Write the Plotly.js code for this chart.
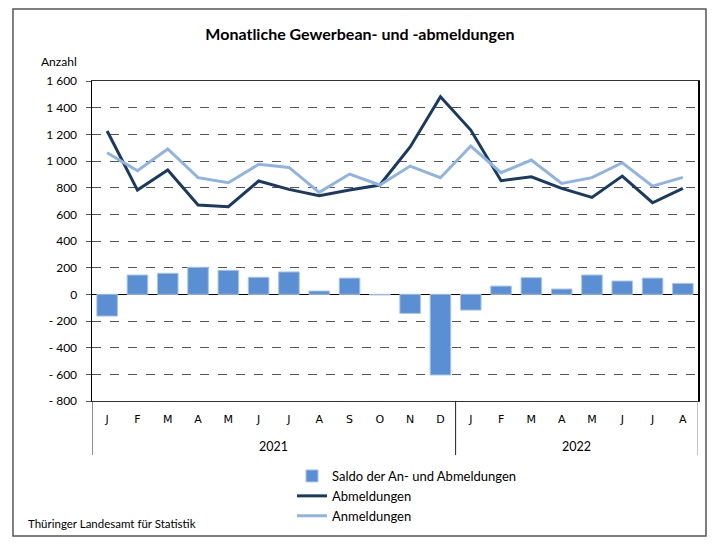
<!DOCTYPE html>
<html>
<head>
<meta charset="utf-8">
<script src="https://cdn.plot.ly/plotly-3.0.1.min.js"></script>
<style>html,body{margin:0;padding:0;background:#fff;}#chart{width:717px;height:549px;}</style>
</head>
<body>
<div id="chart"></div>
<script>
const months = ["J","F","M","A","M","J","J","A","S","O","N","D","J","F","M","A","M","J","J","A"];
const years = ["2021","2022"];
const abmeldungen = [1225,782,932,670,657,850,787,740,782,820,1105,1482,1232,852,882,795,727,887,687,795];
const anmeldungen = [1062,927,1090,875,837,975,952,765,902,820,962,875,1112,912,1007,832,875,987,812,877];
const saldo = [-163,145,158,203,180,128,168,25,122,-5,-143,-605,-118,62,125,40,145,100,122,82];
const yTickVals = [-800,-600,-400,-200,0,200,400,600,800,1000,1200,1400,1600];
const yTickText = ["- 800","- 600","- 400","- 200","0","200","400","600","800","1 000","1 200","1 400","1 600"];

const xIdx = months.map((m,i)=>i);
const F = "Lato, 'Open Sans', sans-serif";

const traces = [
  {type:'bar', x:xIdx, y:saldo, name:'Saldo der An- und Abmeldungen',
   marker:{color:'#5a8fd4', line:{color:'#a8c5ec', width:1}}, width:0.68},
  {type:'scatter', mode:'lines', x:xIdx, y:abmeldungen, name:'Abmeldungen',
   line:{color:'#1b3a61', width:3}},
  {type:'scatter', mode:'lines', x:xIdx, y:anmeldungen, name:'Anmeldungen',
   line:{color:'#8fb4e3', width:3}}
];

const shapes = [
  {type:'rect', xref:'paper', yref:'paper', x0:-0.1304, x1:1.0132, y0:-0.4219, y1:1.225,
   line:{color:'#555', width:1.5}, layer:'below'},
  {type:'line', xref:'x', yref:'paper', x0:-0.5, x1:-0.5, y0:0, y1:-0.169, line:{color:'#222', width:1}},
  {type:'line', xref:'x', yref:'paper', x0:11.5, x1:11.5, y0:0, y1:-0.169, line:{color:'#222', width:1}},
  {type:'line', xref:'x', yref:'paper', x0:19.5, x1:19.5, y0:0, y1:-0.169, line:{color:'#888', width:1}}
];

const annotations = [
  {text:years[0], xref:'x', yref:'paper', x:5.5, y:(401-446)/320, yanchor:'middle', showarrow:false, font:{family:F, size:12.5, color:'#000'}},
  {text:years[1], xref:'x', yref:'paper', x:15.5, y:(401-446)/320, yanchor:'middle', showarrow:false, font:{family:F, size:12.5, color:'#000'}},
  {text:'Anzahl', xref:'paper', yref:'paper', x:(79-92)/606, y:(401-61)/320, xanchor:'right', yanchor:'middle', showarrow:false, font:{family:F, size:12, color:'#000'}},
  {text:'Thüringer Landesamt für Statistik', xref:'paper', yref:'paper', x:(26-92)/606, y:(401-523)/320, xanchor:'left', yanchor:'middle', showarrow:false, font:{family:F, size:11.5, color:'#000'}}
];

const layout = {
  width:717, height:549,
  margin:{l:92, r:19, t:81, b:148},
  paper_bgcolor:'#fff', plot_bgcolor:'#fff',
  title:{text:'<b>Monatliche Gewerbean- und -abmeldungen</b>', x:0.502, xanchor:'center', y:1-34/549, yanchor:'middle', yref:'container', font:{family:F, size:16, color:'#000'}},
  showlegend:true,
  legend:{x:(292-92)/606, y:(401-461)/320, xanchor:'left', yanchor:'top', orientation:'v', font:{family:F, size:13, color:'#000'}, bgcolor:'rgba(0,0,0,0)', tracegroupgap:0, itemwidth:30},
  bargap:0.32,
  xaxis:{range:[-0.5,19.5], tickvals:xIdx, ticktext:months, showgrid:false, zeroline:false,
         ticks:'', ticklabelstandoff:8, tickfont:{family:"'DejaVu Sans', sans-serif", size:11, color:'#000'},
         showline:true, linecolor:'#333', linewidth:1, mirror:true, fixedrange:true},
  yaxis:{range:[-800,1600], tickvals:yTickVals, ticktext:yTickText, showgrid:true, gridcolor:'#555', griddash:'dash', gridwidth:1,
         zeroline:true, zerolinecolor:'#000', zerolinewidth:1.5,
         ticks:'outside', ticklen:5, tickcolor:'#555', ticklabelstandoff:6,
         tickfont:{family:F, size:12, color:'#000'},
         showline:true, linecolor:'#000', linewidth:1.5, mirror:true, fixedrange:true},
  shapes:shapes, annotations:annotations
};

Plotly.newPlot('chart', traces, layout, {displayModeBar:false, staticPlot:true});
</script>
</body>
</html>
